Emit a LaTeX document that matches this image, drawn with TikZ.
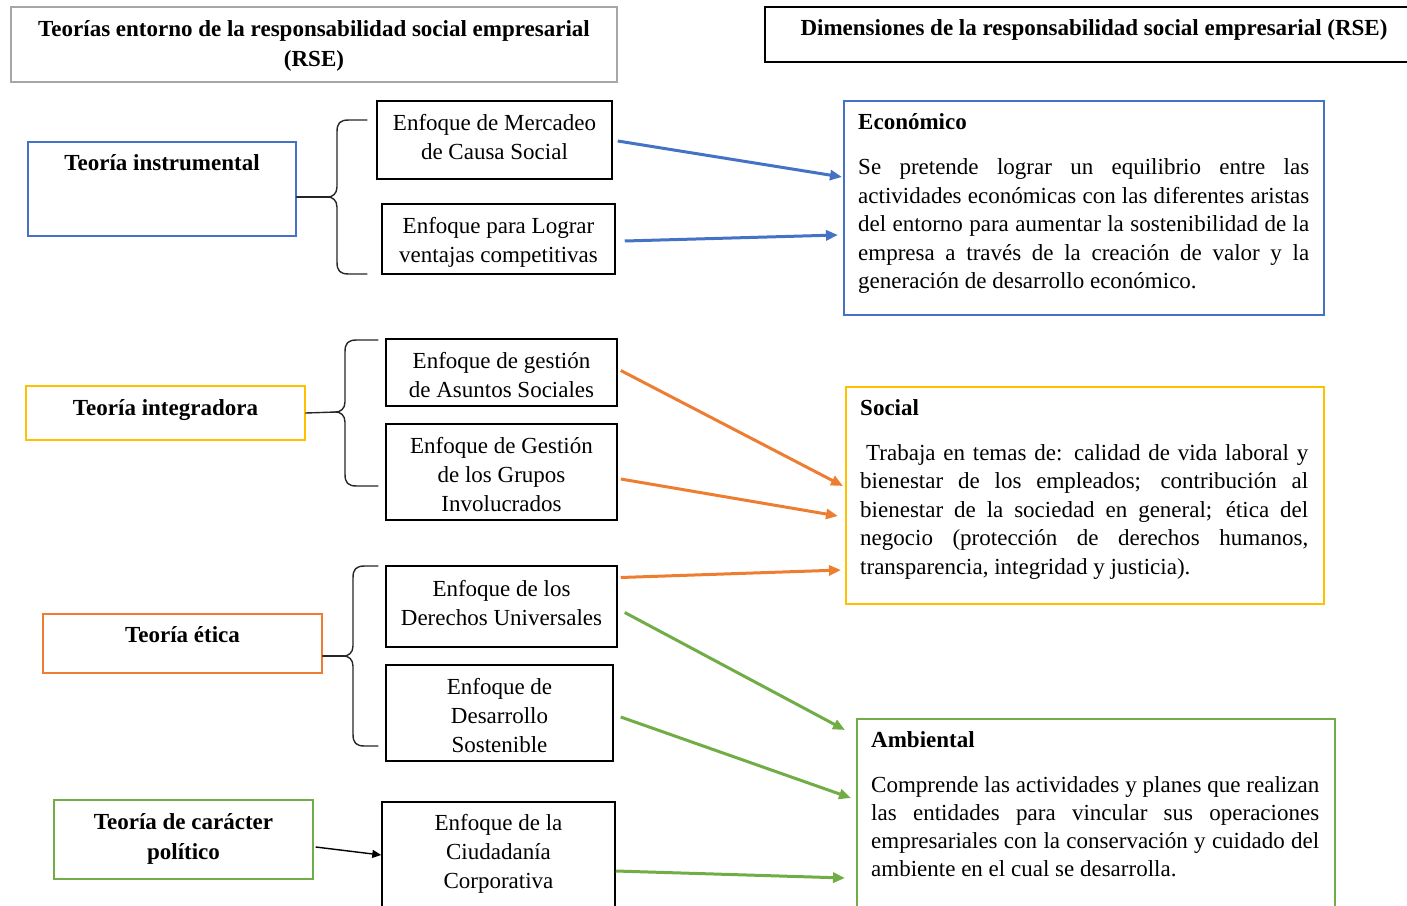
\documentclass[tikz,border=0pt]{standalone}
\usepackage{fontspec}
\setmainfont{Liberation Serif}
\usetikzlibrary{arrows.meta,calc}
\definecolor{rseblue}{HTML}{4472C4}
\definecolor{rseyellow}{HTML}{FFC000}
\definecolor{rseorange}{HTML}{ED7D31}
\definecolor{rsegreen}{HTML}{70AD47}
\definecolor{rsegray}{HTML}{A6A6A6}
% brace: #1 end x, #2 vertical x, #3 cusp x, #4 top y, #5 mid y, #6 bottom y
\newcommand\rsebrace[6]{%
  \draw[bracestyle] (#1,#4) -- (#2+12,#4) .. controls (#2+3,#4) and (#2,#4+3) .. (#2,#4+12)
    -- (#2,#5-10) .. controls (#2,#5-3) and (#3+4,#5) .. (#3,#5)
    .. controls (#3+4,#5) and (#2,#5+3) .. (#2,#5+10)
    -- (#2,#6-12) .. controls (#2,#6-3) and (#2+3,#6) .. (#2+12,#6) -- (#1,#6);}
\begin{document}
\begin{tikzpicture}[x=1pt,y=-1pt,
  every node/.style={inner sep=0pt},
  frame/.style={draw, line width=1.4pt, rectangle},
  hdr/.style={font=\fontsize{23}{30}\selectfont\bfseries, align=center},
  ttl/.style={font=\fontsize{23}{30}\selectfont\bfseries, align=center, text height=16pt, text depth=6pt},
  mid/.style={draw=black, line width=1.5pt, rectangle, align=center, font=\fontsize{23}{29}\selectfont},
  midtext/.style={align=center, font=\fontsize{23}{29}\selectfont},
  body/.style={font=\fontsize{23}{28.5}\selectfont, align=justify, anchor=north west},
  arr/.style={line width=3pt, -{Triangle[length=12pt,width=10pt]}},
  blackarr/.style={line width=1.4pt, -{Triangle[length=9pt,width=8pt]}},
  bracestyle/.style={line width=1.4pt, draw=black!85, line cap=round}]
\useasboundingbox (0,0) rectangle (1407,905);
\clip (0,0) rectangle (1407,905);

% headers
\node[frame, draw=rsegray, minimum width=606pt, minimum height=75pt] (hl) at (314,44.5) {};
\node[hdr] (hlt) at (314,46) {Teorías entorno de la responsabilidad social empresarial\\(RSE)};
\node[frame, draw=black, minimum width=658pt, minimum height=55pt] (hr) at (1094,34.5) {};
\node[ttl] (hrt) at (1094,30) {Dimensiones de la responsabilidad social empresarial (RSE)};

% theory boxes
\node[frame, draw=rseblue, minimum width=268pt, minimum height=94pt] (ti) at (162,189) {};
\node[ttl] (tit) at (162,165.5) {Teoría instrumental};
\node[frame, draw=rseyellow, minimum width=279pt, minimum height=54pt] (tg) at (165.5,413) {};
\node[ttl] (tgt) at (165.5,410.5) {Teoría integradora};
\node[frame, draw=rseorange, minimum width=279pt, minimum height=59pt] (te) at (182.5,643.5) {};
\node[ttl] (tet) at (182.5,637.5) {Teoría ética};
\node[frame, draw=rsegreen, minimum width=259pt, minimum height=79pt] (tp) at (183.5,839.5) {};
\node[hdr] (tpt) at (183.5,838.5) {Teoría de carácter\\político};

% middle boxes
\node[mid, minimum width=235pt, minimum height=78pt] (m1) at (494.5,140) {};
\node[midtext] (m1t) at (494.5,137.5) {Enfoque de Mercadeo\\de Causa Social};
\node[mid, minimum width=233pt, minimum height=70pt] (m2) at (498.5,239) {};
\node[midtext] (m2t) at (498.5,242) {Enfoque para Lograr\\ventajas competitivas};
\node[mid, minimum width=231pt, minimum height=67pt] (m3) at (501.5,372.5) {};
\node[midtext] (m3t) at (501.5,375) {Enfoque de gestión\\de Asuntos Sociales};
\node[mid, minimum width=231pt, minimum height=96pt] (m4) at (501.5,472) {};
\node[midtext] (m4t) at (501.5,474.5) {Enfoque de Gestión\\de los Grupos\\Involucrados};
\node[mid, minimum width=231pt, minimum height=81pt] (m5) at (501.5,606.5) {};
\node[midtext] (m5t) at (501.5,603) {Enfoque de los\\Derechos Universales};
\node[mid, minimum width=227pt, minimum height=96pt] (m6) at (499.5,713) {};
\node[midtext] (m6t) at (499.5,716) {Enfoque de\\Desarrollo\\Sostenible};
\node[mid, minimum width=233pt, minimum height=106pt] (m7) at (498.5,855) {};
\node[midtext] (m7t) at (498.5,853.5) {Enfoque de la\\Ciudadanía\\Corporativa};

% braces
\rsebrace{367}{337}{328}{120}{197}{274}
\rsebrace{378}{345}{336}{340}{412}{486}
\rsebrace{378}{353}{344}{566}{656}{746}
\coordinate (c1) at (328,197);
\coordinate (c2) at (336,412);
\coordinate (c3) at (344,656);
\draw[bracestyle] ($(ti.east)+(0,8)$) -- (c1);
\draw[bracestyle] (tg.east) -- (c2);
\draw[bracestyle] ($(te.east)+(0,12.5)$) -- (c3);
\draw[blackarr] ($(tp.east)+(2,7.5)$) -- (m7.west);

% right boxes
\node[frame, draw=rseblue, minimum width=480pt, minimum height=214pt] (eco) at (1084,208) {};
\node[ttl, anchor=west] (ecot) at (858,124) {Económico};
\node[body, text width=451pt] (ecob) at (858,154.5) {\noindent\hyphenpenalty10000\strut Se pretende lograr un equilibrio entre las\linebreak actividades económicas con las diferentes aristas\linebreak del entorno para aumentar la sostenibilidad de la\linebreak empresa a través de la creación de valor y la\linebreak generación de desarrollo económico.};

\node[frame, draw=rseyellow, minimum width=478pt, minimum height=217pt] (soc) at (1085,495.5) {};
\node[ttl, anchor=west] (soct) at (860,410) {Social};
\node[body, text width=448pt] (socb) at (860,440) {\noindent\hyphenpenalty10000\strut\hspace{6pt}Trabaja en temas de: calidad de vida laboral y\linebreak bienestar de los empleados; contribución al\linebreak bienestar de la sociedad en general; ética del\linebreak negocio (protección de derechos humanos,\linebreak transparencia, integridad y justicia).};

\node[frame, draw=rsegreen, minimum width=478pt, minimum height=196pt] (amb) at (1096,817) {};
\node[ttl, anchor=west] (ambt) at (871,742) {Ambiental};
\node[body, text width=448pt, font=\fontsize{23}{28}\selectfont] (ambb) at (871,772.5) {\noindent\hyphenpenalty10000\strut Comprende las actividades y planes que realizan\linebreak las entidades para vincular sus operaciones\linebreak empresariales con la conservación y cuidado del\linebreak ambiente en el cual se desarrolla.};

% connectors
\coordinate (eIn1) at (842,177);
\coordinate (eIn2) at (838,235);
\coordinate (sIn1) at (843,486);
\coordinate (sIn2) at (838,516);
\coordinate (sIn3) at (841,570);
\coordinate (aIn1) at (845,730);
\coordinate (aIn2) at (851,798);
\coordinate (aIn3) at (845,878);
\draw[arr, rseblue] ($(m1.east)+(5,1)$) -- (eIn1);
\draw[arr, rseblue] ($(m2.east)+(9,2)$) -- (eIn2);
\draw[arr, rseorange] ($(m3.east)+(3,-2)$) -- (sIn1);
\draw[arr, rseorange] ($(m4.east)+(3,7)$) -- (sIn2);
\draw[arr, rseorange] ($(m5.east)+(3,-29)$) -- (sIn3);
\draw[arr, rsegreen] ($(m5.east)+(7,6)$) -- (aIn1);
\draw[arr, rsegreen] ($(m6.east)+(7,4)$) -- (aIn2);
\draw[arr, rsegreen] ($(m7.east)+(0,16)$) -- (aIn3);
\end{tikzpicture}
\end{document}
